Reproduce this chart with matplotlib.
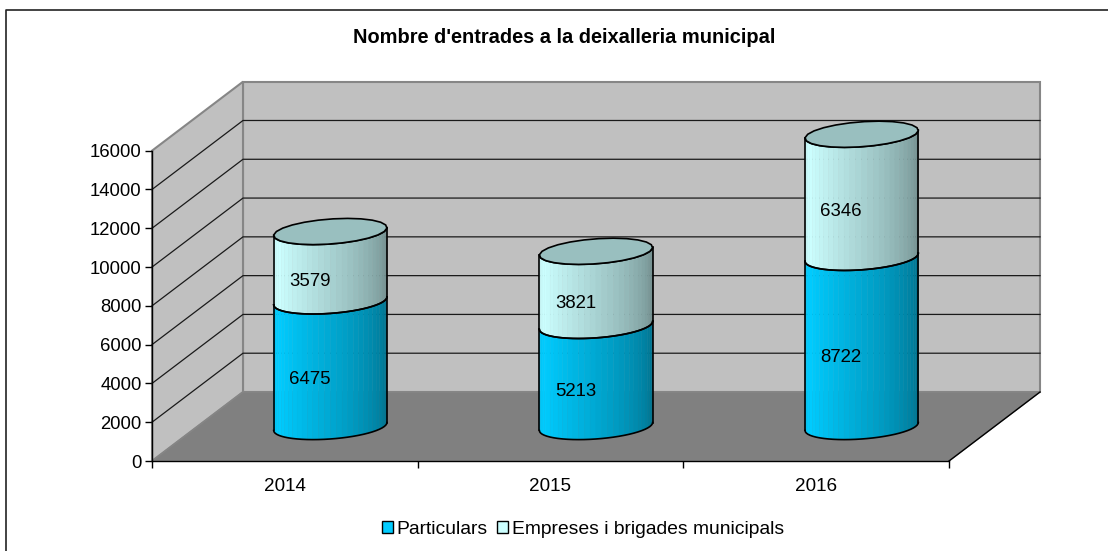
import numpy as np
import matplotlib
matplotlib.use("Agg")
import matplotlib.pyplot as plt
from matplotlib.patches import Polygon, Patch

plt.rcParams['font.family'] = ['Liberation Sans', 'DejaVu Sans']

years = ['2014', '2015', '2016']
particulars = [6475, 5213, 8722]
empreses = [3579, 3821, 6346]
y_ticks = [0, 2000, 4000, 6000, 8000, 10000, 12000, 14000, 16000]
series_names = ['Particulars', 'Empreses i brigades municipals']

W, H = 1108, 551
Y_MAX = 16000

# depth of the 3d box, in data units of the front plane
DEPTH_X = 91 / 797 * 3
DEPTH_Y = 69 / 310.3 * Y_MAX
RX = 0.203
RD = 0.19


def proj(x, v, d):
    return x + d * DEPTH_X, v + d * DEPTH_Y


def side_colors(base, n):
    # light just left of centre, dark at the right edge
    base = np.array(matplotlib.colors.to_rgb(base))
    out = []
    for i in range(n):
        s = i / (n - 1)
        if s < 0.12:
            k = 0.94 + 0.06 * s / 0.12
        else:
            k = 1.0 - 0.46 * ((s - 0.12) / 0.88) ** 1.15
        out.append(tuple(base * k))
    return out


def cylinder(ax, xc, v0, v1, base, top_color=None):
    # circle in the floor plane, sheared by the depth projection
    tilt = np.arctan2(17.3, 54)
    ts = np.linspace(np.pi + tilt, 2 * np.pi + tilt, 31)
    xs = xc + RX * np.cos(ts)
    ds = 0.5 + RD * np.sin(ts)
    bx, by = proj(xs, v0, ds)
    tx, ty = proj(xs, v1, ds)
    for i, c in enumerate(side_colors(base, len(ts) - 1)):
        pts = [(bx[i], by[i]), (bx[i + 1], by[i + 1]), (tx[i + 1], ty[i + 1]), (tx[i], ty[i])]
        ax.add_patch(Polygon(pts, closed=True, fc=c, ec=c, lw=0.3, zorder=5, clip_on=False))
    ax.plot(bx, by, color='black', lw=1.2, zorder=6, clip_on=False)
    ax.plot(tx, ty, color='black', lw=1.2, zorder=6, clip_on=False)
    ax.plot([bx[0], tx[0]], [by[0], ty[0]], color='black', lw=1.2, zorder=6, clip_on=False)
    ax.plot([bx[-1], tx[-1]], [by[-1], ty[-1]], color='black', lw=1.2, zorder=6, clip_on=False)
    if top_color:
        t = np.linspace(0, 2 * np.pi, 25)
        ex, ey = proj(xc + RX * np.cos(t), v1, 0.5 + RD * np.sin(t))
        ax.add_patch(Polygon(np.c_[ex, ey], closed=True, fc=top_color, ec='black', lw=1.2,
                             zorder=7, clip_on=False))


fig = plt.figure(figsize=(W / 100, H / 100), dpi=100)
fig.patch.set_facecolor('white')

# chart frame: only left and top edges fall inside the picture
fig.add_artist(plt.Line2D([5.5 / W, 5.5 / W, 1], [0, 1 - 10 / H, 1 - 10 / H], color='#222222', lw=1.2,
                          transform=fig.transFigure))

ax = fig.add_axes([152 / W, (H - 461) / H, 797 / W, 310.3 / H])
ax.set_xlim(0, 3)
ax.set_ylim(0, Y_MAX)
ax.patch.set_visible(False)

WALL = '#C0C0C0'
FLOOR = '#808080'
EDGE = '#868686'

# back wall, side wall, floor
ax.add_patch(Polygon([proj(0, 0, 1), proj(3, 0, 1), proj(3, Y_MAX, 1), proj(0, Y_MAX, 1)],
                     closed=True, fc=WALL, ec=EDGE, lw=1.5, zorder=1, clip_on=False))
ax.add_patch(Polygon([proj(0, 0, 0), proj(0, 0, 1), proj(0, Y_MAX, 1), proj(0, Y_MAX, 0)],
                     closed=True, fc=WALL, ec=EDGE, lw=1.5, zorder=1, clip_on=False))
ax.add_patch(Polygon([proj(0, 0, 0), proj(3, 0, 0), proj(3, 0, 1), proj(0, 0, 1)],
                     closed=True, fc=FLOOR, ec=EDGE, lw=1.0, zorder=2, clip_on=False))
x_r, y_r = zip(proj(3, 0, 0), proj(3, 0, 1))
ax.plot(x_r, y_r, color='black', lw=1.0, zorder=3, clip_on=False)

# gridlines on side wall and back wall
for v in y_ticks[1:-1]:
    x_g, y_g = zip(proj(0, v, 0), proj(0, v, 1), proj(3, v, 1))
    ax.plot(x_g, y_g, color='#1a1a1a', lw=0.9, zorder=3, clip_on=False)

# stacked cylinders, labels sit at 0.275 of the depth
for i, year in enumerate(years):
    xc = i + 0.5
    p, e = particulars[i], empreses[i]
    cylinder(ax, xc, 0, p, '#00CCFF')
    cylinder(ax, xc, p, p + e, '#CCFFFF', top_color='#99BFBF')
    for mid, val in ((p / 2, p), (p + e / 2, e)):
        lx, ly = proj(xc, mid, 0.275)
        ax.text(lx, ly, str(val), ha='center', va='center', fontsize=13.4, color='black', zorder=8)

for s in ('top', 'right'):
    ax.spines[s].set_visible(False)
for s in ('left', 'bottom'):
    ax.spines[s].set_color('black')
    ax.spines[s].set_linewidth(1.0)
    ax.spines[s].set_zorder(4)

ax.set_yticks(y_ticks)
ax.set_xticks([0, 1, 2, 3])
ax.set_xticklabels([])
ax.set_xticks([0.5, 1.5, 2.5], minor=True)
ax.set_xticklabels(years, minor=True)
ax.tick_params(axis='x', which='minor', length=0, pad=12.5, labelsize=13.6)
ax.tick_params(axis='x', which='major', length=5, width=1.0)
ax.tick_params(axis='y', length=5, width=1.0, pad=2.5, labelsize=13.3)

fig.text(564 / W, 1 - 37.5 / H, "Nombre d'entrades a la deixalleria municipal",
         ha='center', va='center', fontsize=14.4, fontweight='bold')

handles = [Patch(fc='#00CCFF', ec='black', lw=1.0), Patch(fc='#CCFFFF', ec='black', lw=1.0)]
fig.legend(handles, series_names, loc='center', bbox_to_anchor=(583 / W, 1 - 529.5 / H), ncol=2,
           frameon=False, fontsize=13.9, handlelength=0.57, handleheight=0.57, handletextpad=0.2,
           columnspacing=0.5, borderpad=0)

fig.savefig('out.png', dpi=100)
